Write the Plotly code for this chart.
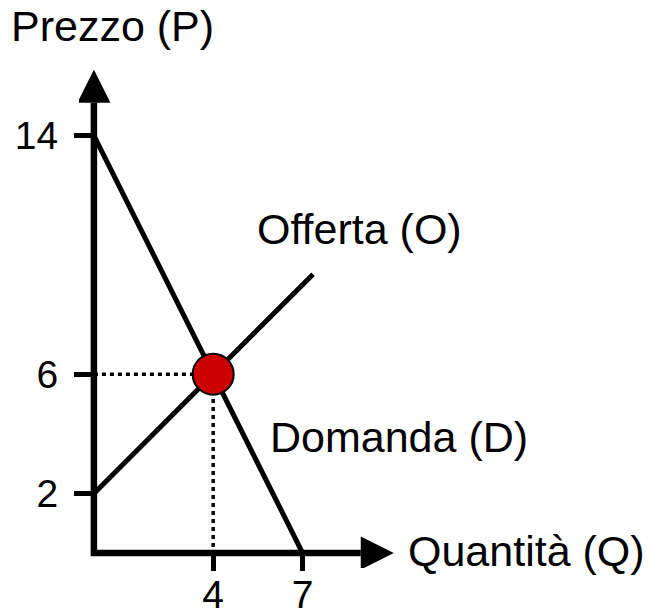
import plotly.graph_objects as go

# curve data (quantita, prezzo)
demand_q = [0, 7]
demand_p = [14, 0]
supply_q = [0, 7.35]
supply_p = [2, 9.35]
eq_q = 4
eq_p = 6

x_ticks = [4, 7]
y_ticks = [2, 6, 14]

# length of the drawn axes (arrowheads start here)
axis_q_end = 8.95
axis_p_end = 15.10

FONT = "Liberation Sans, Arial, sans-serif"
INK = "black"

fig = go.Figure()

# axes as one polyline
fig.add_trace(go.Scatter(
    x=[0, 0, axis_q_end], y=[axis_p_end, 0, 0],
    mode="lines", line=dict(color=INK, width=6.5),
    hoverinfo="skip", showlegend=False,
))

# demand and supply
fig.add_trace(go.Scatter(x=demand_q, y=demand_p, mode="lines",
                         line=dict(color=INK, width=5), showlegend=False))
fig.add_trace(go.Scatter(x=supply_q, y=supply_p, mode="lines",
                         line=dict(color=INK, width=5), showlegend=False))

# dotted guides to the axes
fig.add_trace(go.Scatter(x=[0, eq_q, eq_q], y=[eq_p, eq_p, 0], mode="lines",
                         line=dict(color=INK, width=3.5, dash="4px,4px"),
                         showlegend=False))

# equilibrium point
fig.add_trace(go.Scatter(x=[eq_q], y=[eq_p], mode="markers",
                         marker=dict(size=41, color="#CC0000",
                                     line=dict(color=INK, width=2)),
                         showlegend=False))

# arrowheads
fig.add_shape(type="path", xref="x", yref="y", xsizemode="pixel", ysizemode="pixel",
              xanchor=0, yanchor=axis_p_end, path="M-16.5,0 L16.5,0 L0,33 Z",
              fillcolor=INK, line=dict(width=0))
fig.add_shape(type="path", xref="x", yref="y", xsizemode="pixel", ysizemode="pixel",
              xanchor=axis_q_end, yanchor=0, path="M0,-16.5 L0,16.5 L33,0 Z",
              fillcolor=INK, line=dict(width=0))

label_font = dict(family=FONT, size=43, color=INK)
fig.add_annotation(text="Prezzo (P)", xref="paper", yref="paper", x=-0.2134, y=1.069,
                   xanchor="left", yanchor="middle", showarrow=False, font=label_font)
fig.add_annotation(text="Quantità (Q)", xref="paper", yref="paper", x=0.997, y=0.0335,
                   xanchor="left", yanchor="middle", showarrow=False, font=label_font)
fig.add_annotation(text="Offerta (O)", x=5.40, y=10.88,
                   xanchor="left", yanchor="middle", showarrow=False, font=label_font)
fig.add_annotation(text="Domanda (D)", x=5.85, y=3.88,
                   xanchor="left", yanchor="middle", showarrow=False, font=label_font)

tick_style = dict(
    showgrid=False, zeroline=False, showline=False,
    ticks="outside", tickwidth=5, tickcolor=INK,
    tickfont=dict(family=FONT, size=39, color=INK),
    anchor="free",
)

fig.update_xaxes(range=[-0.5, 10.5], tickvals=x_ticks, position=0.5 / 17,
                 ticklen=17, ticklabelstandoff=-10, **tick_style)
fig.update_yaxes(range=[-0.5, 16.5], tickvals=y_ticks, position=0.5 / 11,
                 ticklen=20, ticklabelstandoff=8, **tick_style)

fig.update_layout(
    width=648, height=611,
    margin=dict(l=79, r=241, t=61, b=43, autoexpand=False),
    plot_bgcolor="white", paper_bgcolor="white",
    showlegend=False,
)

fig.write_html("out.html", config={"displayModeBar": False},
               post_script="document.body.style.margin = '0';")
